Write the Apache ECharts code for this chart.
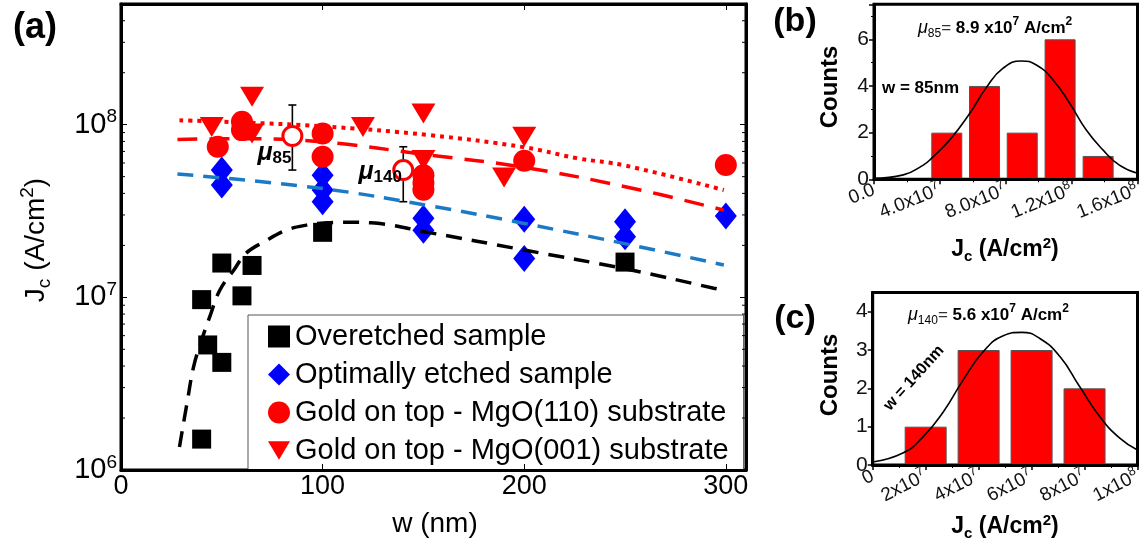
<!DOCTYPE html>
<html><head><meta charset="utf-8">
<script src="https://cdn.jsdelivr.net/npm/echarts@6/dist/echarts.min.js"></script>
<style>html,body{margin:0;padding:0;background:#fff}#c{width:1139px;height:545px}</style>
</head><body><div id="c"></div><script>
const FONT = '"Liberation Sans", Arial, sans-serif';

// ---------- Panel (a) data ----------
const OVER_W = [40, 40, 43, 50, 50, 60, 65, 100, 250];
const OVER_J = [1.51e6, 9.7e6, 5.3e6, 4.2e6, 1.58e7, 1.02e7, 1.53e7, 2.38e7, 1.6e7];
const OPT_W = [50, 50, 100, 100, 100, 150, 150, 200, 200, 250, 250, 300];
const OPT_J = [5.46e7, 4.47e7, 5.1e7, 4.18e7, 3.58e7, 2.87e7, 2.45e7, 2.83e7, 1.68e7, 2.74e7, 2.24e7, 2.96e7];
const M110_W = [48, 60, 60, 100, 100, 150, 150, 150, 200, 300];
const M110_J = [7.45e7, 1.04e8, 9.3e7, 8.9e7, 6.52e7, 5.1e7, 4.6e7, 4.2e7, 6.18e7, 5.84e7];
const M001_W = [45, 65, 65, 120, 150, 150, 190, 200];
const M001_J = [9.7e7, 1.45e8, 8.9e7, 9.7e7, 1.16e8, 6.24e7, 4.95e7, 8.5e7];
const MU_W = [85, 140];
const MU_J = [8.6e7, 5.46e7];
const MU_LO = [5.46e7, 3.58e7];
const MU_HI = [1.3e8, 7.45e7];
const MU_NAMES = ['85', '140'];

const FIT_OVER_W = [29, 33, 36, 40, 44, 49, 56, 62, 71, 82, 92, 102, 113, 124, 153, 200, 253, 294, 300];
const FIT_OVER_J = [1.36e6, 2.54e6, 3.96e6, 5.66e6, 7.7e6, 1.1e7, 1.44e7, 1.8e7, 2.1e7, 2.45e7, 2.62e7, 2.7e7, 2.72e7, 2.7e7, 2.37e7, 1.88e7, 1.44e7, 1.13e7, 1.09e7];
const FIT_OPT_W = [28, 99, 155, 200, 253, 299];
const FIT_OPT_J = [5.18e7, 4.28e7, 3.36e7, 2.68e7, 2.01e7, 1.54e7];
const FIT_110_W = [28, 60, 99, 153, 200, 253, 299];
const FIT_110_J = [8.22e7, 8.3e7, 7.96e7, 6.67e7, 5.66e7, 4.3e7, 3.2e7];
const FIT_001_W = [29, 60, 99, 153, 200, 226, 250, 299];
const FIT_001_J = [1.06e8, 1.03e8, 9.8e7, 8.7e7, 7.4e7, 6.4e7, 5.8e7, 4.18e7];

const W_RANGE = [0, 310];
const J_RANGE = [1e6, 5e8];
const MINOR_J = [2e6,3e6,4e6,5e6,6e6,7e6,8e6,9e6,2e7,3e7,4e7,5e7,6e7,7e7,8e7,9e7,2e8,3e8,4e8];

const LEGEND_NAMES = ['Overetched sample', 'Optimally etched sample', 'Gold on top - MgO(110) substrate', 'Gold on top - MgO(001) substrate'];

// ---------- Panel (b) data ----------
const B_BIN = [4.42e7, 6.71e7, 9.0e7, 1.13e8, 1.361e8];
const B_COUNT = [2, 4, 2, 6, 1];
const B_FIT_X = [0, 1.78e7, 2.99e7, 3.49e7, 4.6e7, 5.82e7, 6.83e7, 7.84e7, 8.95e7, 9.86e7, 1.087e8, 1.188e8, 1.289e8, 1.39e8, 1.49e8, 1.6e8];
const B_FIT_Y = [0.04, 0.19, 0.61, 0.9, 1.69, 2.83, 3.94, 4.76, 5.07, 4.9, 4.26, 3.26, 2.11, 1.26, 0.61, 0.26];

// ---------- Panel (c) data ----------
const C_BIN = [2.0e7, 4.0e7, 6.0e7, 8.0e7];
const C_COUNT = [1, 3, 3, 2];
const C_FIT_X = [0, 1.16e7, 1.91e7, 2.67e7, 3.42e7, 4.18e7, 4.93e7, 5.62e7, 6.31e7, 7.07e7, 7.82e7, 8.58e7, 9.33e7, 1e8];
const C_FIT_Y = [0.08, 0.32, 0.74, 1.39, 2.22, 2.96, 3.37, 3.46, 3.3, 2.83, 2.04, 1.26, 0.7, 0.39];

const zip = (a, b) => a.map((v, i) => [v, b[i]]);

function sci(v, dec) {
  if (v === 0) return dec ? '{n|0.0}' : '{n|0}';
  const e = Math.floor(Math.log10(v) + 1e-9);
  const m = v / Math.pow(10, e);
  return '{n|' + m.toFixed(dec) + 'x10}{s|' + e + '}';
}
const sciRich = {
  n: {fontSize: 19, fontFamily: FONT, color: '#111', lineHeight: 24},
  s: {fontSize: 13, fontFamily: FONT, color: '#111', lineHeight: 13, verticalAlign: 'top'}
};

const chart = echarts.init(document.getElementById('c'));

const frameAxisA = {lineStyle: {color: '#000', width: 3}};

const option = {
  animation: false,
  backgroundColor: '#fff',
  grid: [
    {left: 121, right: 393, top: 4, bottom: 75, show: true, borderColor: '#000', borderWidth: 3, backgroundColor: 'transparent', outerBoundsMode: 'none', containLabel: false},
    {left: 874, right: 1.5, top: 4.3, bottom: 365.7, show: true, borderColor: '#000', borderWidth: 3, backgroundColor: 'transparent', outerBoundsMode: 'none', containLabel: false},
    {left: 872.7, right: 1.5, top: 292.5, bottom: 80, show: true, borderColor: '#000', borderWidth: 3, backgroundColor: 'transparent', outerBoundsMode: 'none', containLabel: false}
  ],
  xAxis: [
    {gridIndex: 0, type: 'value', min: W_RANGE[0], max: W_RANGE[1], interval: 100, position: 'bottom', z: 10,
     axisLine: {show: true, ...frameAxisA}, splitLine: {show: false},
     axisTick: {show: true, inside: true, length: 6, lineStyle: {color: '#000', width: 1}},
     axisLabel: {show: true, fontSize: 27, fontFamily: FONT, color: '#000', margin: 3, showMaxLabel: false}},
    {gridIndex: 0, type: 'value', min: W_RANGE[0], max: W_RANGE[1], interval: 100, position: 'top', z: 10,
     axisLine: {show: true, onZero: false, ...frameAxisA}, splitLine: {show: false},
     axisTick: {show: true, inside: true, length: 6, lineStyle: {color: '#000', width: 1}},
     axisLabel: {show: false}},
    {gridIndex: 1, type: 'value', min: 0, max: 1.6e8, interval: 4e7, z: 5,
     axisLine: {show: true, onZero: false, lineStyle: {color: '#000', width: 3}}, splitLine: {show: false},
     axisTick: {show: true, inside: false, length: 5, lineStyle: {color: '#000', width: 1.5}},
     minorTick: {show: true, splitNumber: 2, length: 3, lineStyle: {color: '#000', width: 1}},
     axisLabel: {rotate: 22, margin: 10, formatter: v => sci(v, 1), rich: sciRich}},
    {gridIndex: 2, type: 'value', min: 0, max: 1e8, interval: 2e7, z: 5,
     axisLine: {show: true, onZero: false, lineStyle: {color: '#000', width: 3}}, splitLine: {show: false},
     axisTick: {show: true, inside: false, length: 5, lineStyle: {color: '#000', width: 1.5}},
     minorTick: {show: true, splitNumber: 2, length: 3, lineStyle: {color: '#000', width: 1}},
     axisLabel: {rotate: 27, margin: 10, formatter: v => sci(v, 0), rich: sciRich}}
  ],
  yAxis: [
    {gridIndex: 0, type: 'log', logBase: 10, min: J_RANGE[0], max: J_RANGE[1], position: 'left', z: 10,
     axisLine: {show: true, ...frameAxisA}, splitLine: {show: false}, minorTick: {show: false},
     axisTick: {show: true, inside: true, length: 6, lineStyle: {color: '#000', width: 1}},
     axisLabel: {show: true, margin: 4, showMaxLabel: false,
       formatter: v => '{b|10}{s|' + Math.round(Math.log10(v)) + '}',
       rich: {b: {fontSize: 29, fontFamily: FONT, color: '#000', lineHeight: 34},
              s: {fontSize: 19, fontFamily: FONT, color: '#000', lineHeight: 19, verticalAlign: 'top'}}}},
    {gridIndex: 0, type: 'log', logBase: 10, min: J_RANGE[0], max: J_RANGE[1], position: 'right', z: 10,
     axisLine: {show: true, onZero: false, ...frameAxisA}, splitLine: {show: false},
     axisTick: {show: true, inside: true, length: 6, lineStyle: {color: '#000', width: 1}},
     axisLabel: {show: false}},
    {gridIndex: 1, type: 'value', min: 0, max: 7.5, interval: 2, z: 5,
     axisLine: {show: true, lineStyle: {color: '#000', width: 3}}, splitLine: {show: false},
     axisTick: {show: true, inside: false, length: 5, lineStyle: {color: '#000', width: 1.5}},
     minorTick: {show: true, splitNumber: 2, length: 3, lineStyle: {color: '#000', width: 1}},
     axisLabel: {fontSize: 21, fontFamily: FONT, color: '#111', margin: 5, showMaxLabel: false}},
    {gridIndex: 2, type: 'value', min: 0, max: 4.5, interval: 1, z: 5,
     axisLine: {show: true, lineStyle: {color: '#000', width: 3}}, splitLine: {show: false},
     axisTick: {show: true, inside: false, length: 5, lineStyle: {color: '#000', width: 1.5}},
     minorTick: {show: false},
     axisLabel: {fontSize: 21, fontFamily: FONT, color: '#111', margin: 5, showMaxLabel: false}}
  ],
  legend: {
    data: [
      {name: LEGEND_NAMES[0], icon: 'rect'},
      {name: LEGEND_NAMES[1], icon: 'diamond'},
      {name: LEGEND_NAMES[2], icon: 'circle'},
      {name: LEGEND_NAMES[3], icon: 'path://M0,0L24,0L12,20Z'}
    ],
    orient: 'vertical', left: 248, top: 315,
    padding: [7, 15, 5, 20], itemGap: 9, itemWidth: 22, itemHeight: 22,
    backgroundColor: '#fff', borderColor: '#555', borderWidth: 1, borderRadius: 0,
    selectedMode: false, z: 4,
    textStyle: {fontSize: 29, fontFamily: FONT, color: '#000'}
  },
  series: [
    // minor ticks of the log axis (left and right, inside)
    {type: 'custom', xAxisIndex: 0, yAxisIndex: 0, silent: true, clip: false, z: 9,
     data: MINOR_J.map(v => [W_RANGE[0], v]),
     renderItem: (params, api) => {
       const v = api.value(1);
       const l = api.coord([W_RANGE[0], v]);
       const r = api.coord([W_RANGE[1], v]);
       return {type: 'group', children: [
         {type: 'line', shape: {x1: l[0], y1: l[1], x2: l[0] + 4, y2: l[1]}, style: {stroke: '#000', lineWidth: 1}},
         {type: 'line', shape: {x1: r[0], y1: r[1], x2: r[0] - 4, y2: r[1]}, style: {stroke: '#000', lineWidth: 1}}
       ]};
     }},
    // fit curves
    {type: 'line', xAxisIndex: 0, yAxisIndex: 0, data: zip(FIT_OVER_W, FIT_OVER_J), smooth: 0.4, symbol: 'none', silent: true,
     lineStyle: {color: '#000', width: 3.5, type: [16, 10]}},
    {type: 'line', xAxisIndex: 0, yAxisIndex: 0, data: zip(FIT_OPT_W, FIT_OPT_J), smooth: 0.4, symbol: 'none', silent: true,
     lineStyle: {color: '#1a7ac6', width: 3.5, type: [16, 10]}},
    {type: 'line', xAxisIndex: 0, yAxisIndex: 0, data: zip(FIT_110_W, FIT_110_J), smooth: 0.4, symbol: 'none', silent: true,
     lineStyle: {color: '#ff0000', width: 3.5, type: [20, 12]}},
    {type: 'line', xAxisIndex: 0, yAxisIndex: 0, data: zip(FIT_001_W, FIT_001_J), smooth: 0.4, symbol: 'none', silent: true,
     lineStyle: {color: '#ff0000', width: 4, type: [4, 5]}},
    // data
    {name: LEGEND_NAMES[0], type: 'scatter', xAxisIndex: 0, yAxisIndex: 0, data: zip(OVER_W, OVER_J),
     symbol: 'rect', symbolSize: 19, itemStyle: {color: '#000', opacity: 1}},
    {name: LEGEND_NAMES[1], type: 'scatter', xAxisIndex: 0, yAxisIndex: 0, data: zip(OPT_W, OPT_J),
     symbol: 'diamond', symbolSize: [22, 27], itemStyle: {color: '#0000ff', opacity: 1}},
    {name: LEGEND_NAMES[2], type: 'scatter', xAxisIndex: 0, yAxisIndex: 0, data: zip(M110_W, M110_J),
     symbol: 'circle', symbolSize: 22, itemStyle: {color: '#ff0000', opacity: 1}},
    {name: LEGEND_NAMES[3], type: 'scatter', xAxisIndex: 0, yAxisIndex: 0, data: zip(M001_W, M001_J),
     symbol: 'triangle', symbolRotate: 180, symbolSize: [24, 20], itemStyle: {color: '#ff0000', opacity: 1}},
    // error bars of the mean values
    {type: 'custom', xAxisIndex: 0, yAxisIndex: 0, silent: true, z: 3,
     data: MU_W.map((w, i) => [w, MU_LO[i], MU_HI[i]]),
     encode: {x: 0, y: [1, 2]},
     renderItem: (params, api) => {
       const lo = api.coord([api.value(0), api.value(1)]);
       const hi = api.coord([api.value(0), api.value(2)]);
       const c = 4;
       const st = {stroke: '#000', lineWidth: 1.6};
       return {type: 'group', children: [
         {type: 'line', shape: {x1: lo[0], y1: lo[1], x2: hi[0], y2: hi[1]}, style: st},
         {type: 'line', shape: {x1: lo[0] - c, y1: lo[1], x2: lo[0] + c, y2: lo[1]}, style: st},
         {type: 'line', shape: {x1: hi[0] - c, y1: hi[1], x2: hi[0] + c, y2: hi[1]}, style: st}
       ]};
     }},
    {type: 'scatter', xAxisIndex: 0, yAxisIndex: 0, z: 4,
     data: MU_W.map((w, i) => ({value: [w, MU_J[i]],
       label: {show: true, position: 'inside', offset: i === 0 ? [-18, 17] : [-23, 2],
               formatter: '{mu|μ}{sub|' + MU_NAMES[i] + '}'}})),
     symbol: 'circle', symbolSize: 19, itemStyle: {color: '#fff', borderColor: '#ff0000', borderWidth: 3, opacity: 1},
     label: {rich: {
       mu: {fontSize: 25, fontWeight: 'bold', fontStyle: 'italic', fontFamily: FONT, color: '#000', lineHeight: 28},
       sub: {fontSize: 17, fontWeight: 'bold', fontFamily: FONT, color: '#000', lineHeight: 17, verticalAlign: 'bottom'}}}},
    // panel (b)
    {type: 'bar', xAxisIndex: 2, yAxisIndex: 2, data: zip(B_BIN, B_COUNT), barWidth: 31,
     itemStyle: {color: '#ff0000', borderColor: '#555', borderWidth: 1}},
    {type: 'line', xAxisIndex: 2, yAxisIndex: 2, data: zip(B_FIT_X, B_FIT_Y), smooth: 0.5, symbol: 'none',
     lineStyle: {color: '#000', width: 1.6}, z: 4},
    // panel (c)
    {type: 'bar', xAxisIndex: 3, yAxisIndex: 3, data: zip(C_BIN, C_COUNT), barWidth: 42,
     itemStyle: {color: '#ff0000', borderColor: '#555', borderWidth: 1}},
    {type: 'line', xAxisIndex: 3, yAxisIndex: 3, data: zip(C_FIT_X, C_FIT_Y), smooth: 0.5, symbol: 'none',
     lineStyle: {color: '#000', width: 1.6}, z: 4}
  ],
  graphic: [
    {type: 'text', x: 35, y: 28, z: 20, style: {text: '(a)', font: 'bold 36px ' + FONT, fill: '#000', align: 'center', verticalAlign: 'middle'}},
    {type: 'text', x: 795, y: 22, z: 20, style: {text: '(b)', font: 'bold 34px ' + FONT, fill: '#000', align: 'center', verticalAlign: 'middle'}},
    {type: 'text', x: 795, y: 319, z: 20, style: {text: '(c)', font: 'bold 34px ' + FONT, fill: '#000', align: 'center', verticalAlign: 'middle'}},
    // axis titles (a)
    {type: 'text', x: 435, y: 524, z: 20, style: {text: 'w (nm)', font: '28px ' + FONT, fill: '#000', align: 'center', verticalAlign: 'middle'}},
    {type: 'text', x: 36, y: 240, rotation: Math.PI / 2, z: 20, style: {
      text: '{m|J}{sub|c}{m| (A/cm}{sup|2}{m|)}', align: 'center', verticalAlign: 'middle', fill: '#000',
      rich: {m: {fontSize: 28, fontFamily: FONT, fill: '#000', lineHeight: 36},
             sub: {fontSize: 19, fontFamily: FONT, fill: '#000', lineHeight: 19, verticalAlign: 'bottom'},
             sup: {fontSize: 19, fontFamily: FONT, fill: '#000', lineHeight: 19, verticalAlign: 'top'}}}},
    // panel (b) texts
    {type: 'text', x: 918, y: 28, z: 20, style: {
      text: '{mu|μ}{sub|85}{eq|= }{b|8.9 x10}{sup|7}{b| A/cm}{sup|2}', align: 'left', verticalAlign: 'middle',
      rich: {mu: {fontSize: 18, fontStyle: 'italic', fontFamily: FONT, fill: '#000', lineHeight: 24},
             sub: {fontSize: 12, fontFamily: FONT, fill: '#000', lineHeight: 12, verticalAlign: 'bottom'},
             eq: {fontSize: 17, fontFamily: FONT, fill: '#333', lineHeight: 24},
             b: {fontSize: 17, fontWeight: 'bold', fontFamily: FONT, fill: '#000', lineHeight: 24},
             sup: {fontSize: 12, fontWeight: 'bold', fontFamily: FONT, fill: '#000', lineHeight: 12, verticalAlign: 'top'}}}},
    {type: 'text', x: 882, y: 88, z: 20, style: {text: 'w = 85nm', font: 'bold 17px ' + FONT, fill: '#000', align: 'left', verticalAlign: 'middle'}},
    {type: 'text', x: 830, y: 87, rotation: Math.PI / 2, z: 20, style: {text: 'Counts', font: 'bold 24px ' + FONT, fill: '#000', align: 'center', verticalAlign: 'middle'}},
    {type: 'text', x: 1005, y: 250, z: 20, style: {
      text: '{m|J}{sub|c}{m| (A/cm}{sup|2}{m|)}', align: 'center', verticalAlign: 'middle',
      rich: {m: {fontSize: 23, fontWeight: 'bold', fontFamily: FONT, fill: '#000', lineHeight: 28},
             sub: {fontSize: 15, fontWeight: 'bold', fontFamily: FONT, fill: '#000', lineHeight: 15, verticalAlign: 'bottom'},
             sup: {fontSize: 15, fontWeight: 'bold', fontFamily: FONT, fill: '#000', lineHeight: 15, verticalAlign: 'top'}}}},
    // panel (c) texts
    {type: 'text', x: 908, y: 315, z: 20, style: {
      text: '{mu|μ}{sub|140}{eq|= }{b|5.6 x10}{sup|7}{b| A/cm}{sup|2}', align: 'left', verticalAlign: 'middle',
      rich: {mu: {fontSize: 18, fontStyle: 'italic', fontFamily: FONT, fill: '#000', lineHeight: 24},
             sub: {fontSize: 12, fontFamily: FONT, fill: '#000', lineHeight: 12, verticalAlign: 'bottom'},
             eq: {fontSize: 17, fontFamily: FONT, fill: '#333', lineHeight: 24},
             b: {fontSize: 17, fontWeight: 'bold', fontFamily: FONT, fill: '#000', lineHeight: 24},
             sup: {fontSize: 12, fontWeight: 'bold', fontFamily: FONT, fill: '#000', lineHeight: 12, verticalAlign: 'top'}}}},
    {type: 'text', x: 914, y: 378, rotation: 48 * Math.PI / 180, z: 20, style: {text: 'w = 140nm', font: 'bold 16px ' + FONT, fill: '#000', align: 'center', verticalAlign: 'middle'}},
    {type: 'text', x: 830, y: 375, rotation: Math.PI / 2, z: 20, style: {text: 'Counts', font: 'bold 24px ' + FONT, fill: '#000', align: 'center', verticalAlign: 'middle'}},
    {type: 'text', x: 1005, y: 527, z: 20, style: {
      text: '{m|J}{sub|c}{m| (A/cm}{sup|2}{m|)}', align: 'center', verticalAlign: 'middle',
      rich: {m: {fontSize: 23, fontWeight: 'bold', fontFamily: FONT, fill: '#000', lineHeight: 28},
             sub: {fontSize: 15, fontWeight: 'bold', fontFamily: FONT, fill: '#000', lineHeight: 15, verticalAlign: 'bottom'},
             sup: {fontSize: 15, fontWeight: 'bold', fontFamily: FONT, fill: '#000', lineHeight: 15, verticalAlign: 'top'}}}}
  ]
};
chart.setOption(option);
</script></body></html>
